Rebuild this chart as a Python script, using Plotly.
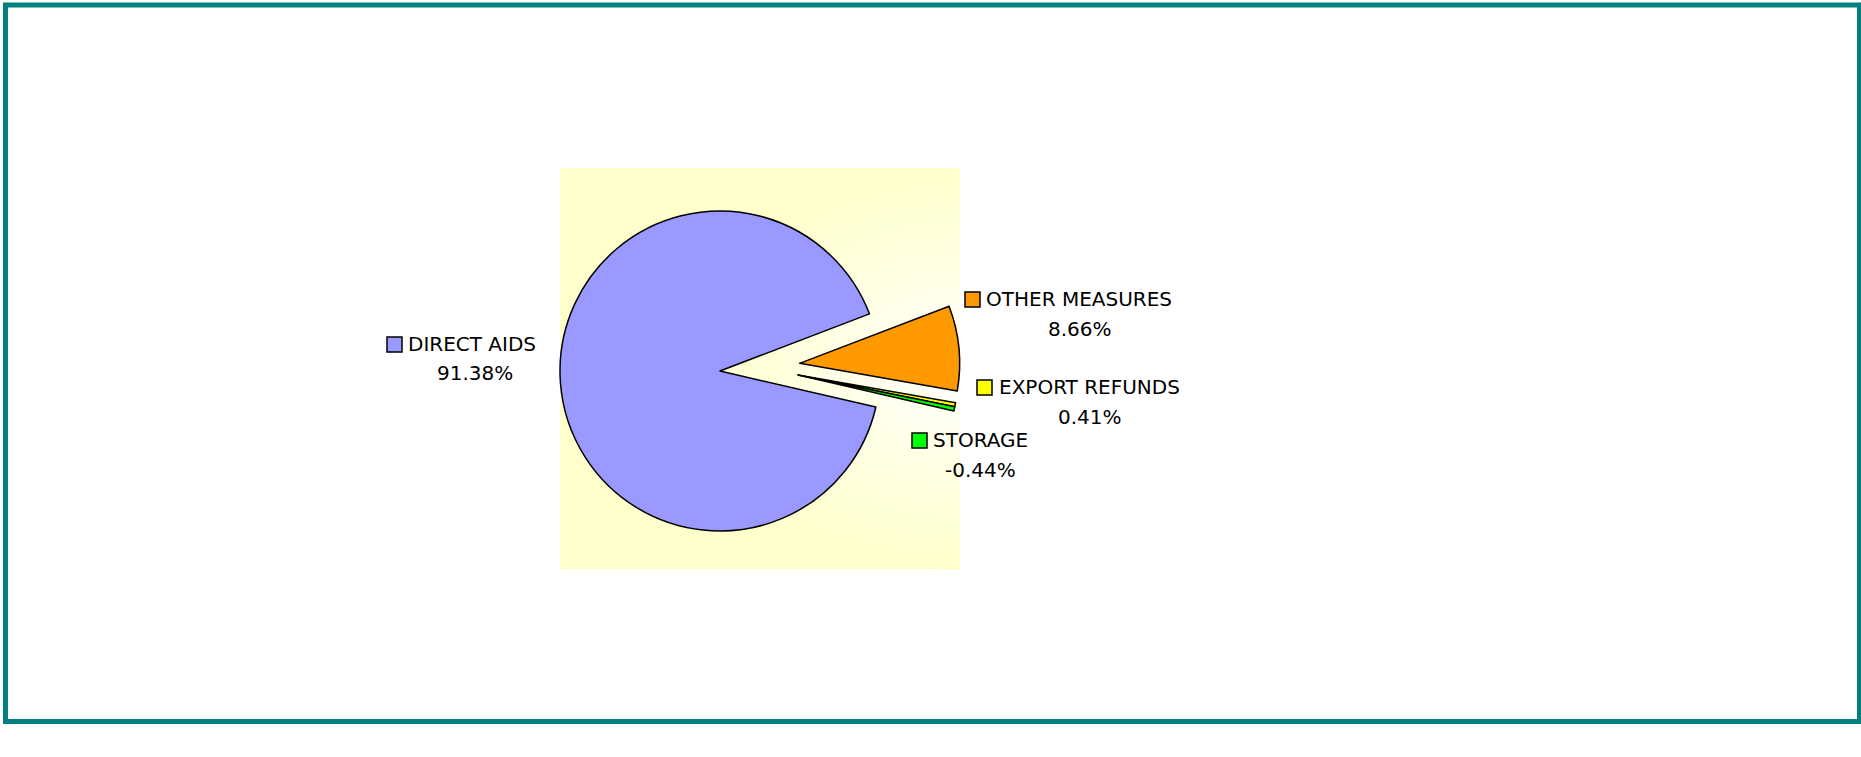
import plotly.graph_objects as go

# ---- data ----
categories = ["DIRECT AIDS", "OTHER MEASURES", "EXPORT REFUNDS", "STORAGE"]
shares_pct = [91.38, 8.66, 0.41, -0.44]
slice_colors = ["#9999FF", "#FF9900", "#FFFF00", "#00FF00"]

W, H = 1861, 757
CLEAR = "rgba(0,0,0,0)"


def X(px):
    return px / W


def Y(py):
    return 1 - py / H


slice_sizes = [abs(v) for v in shares_pct]

fig = go.Figure()

# main pie: direct aids + other measures (the two small slices are drawn by the second trace)
fig.add_trace(go.Pie(
    labels=categories,
    values=slice_sizes,
    marker=dict(colors=[slice_colors[0], slice_colors[1], CLEAR, CLEAR],
                line=dict(color="#000000", width=[1.5, 1.5, 0, 0])),
    pull=[0, 0.5, 0.5, 0.5],
    sort=False,
    direction="clockwise",
    rotation=103,
    textinfo="none",
    hoverinfo="label+percent",
    domain=dict(x=[X(480), X(960)], y=[Y(611), Y(131)]),
    showlegend=False,
))

# the two small exploded slices share one offset apex
fig.add_trace(go.Pie(
    labels=categories,
    values=slice_sizes,
    marker=dict(colors=[CLEAR, CLEAR, slice_colors[2], slice_colors[3]],
                line=dict(color="#000000", width=[0, 0, 1.5, 1.5])),
    pull=[0.5, 0.5, 0, 0],
    sort=False,
    direction="clockwise",
    rotation=103,
    textinfo="none",
    hoverinfo="skip",
    domain=dict(x=[X(558), X(1038)], y=[Y(615), Y(135)]),
    showlegend=False,
))

shapes = []
# plot-area background
shapes.append(dict(type="rect", xref="paper", yref="paper", layer="below",
                   x0=X(560), x1=X(960), y0=Y(569), y1=Y(168),
                   fillcolor="#FFFFCC", line=dict(width=0)))
# radial lightening toward the right-middle of the plot area
cx, cy = 960, 370
steps = 12
k = 0.5523
for i in range(steps):
    t = i / (steps - 1)
    rx = 270 * (1 - t) + 25 * t
    ry = 200 * (1 - t) + 20 * t
    b = int(round(206 + (250 - 206) * t))
    col = "#FFFF%02X" % b
    path = (f"M {X(cx)},{Y(cy-ry)} "
            f"C {X(cx-k*rx)},{Y(cy-ry)} {X(cx-rx)},{Y(cy-k*ry)} {X(cx-rx)},{Y(cy)} "
            f"C {X(cx-rx)},{Y(cy+k*ry)} {X(cx-k*rx)},{Y(cy+ry)} {X(cx)},{Y(cy+ry)} Z")
    shapes.append(dict(type="path", xref="paper", yref="paper", layer="below",
                       path=path, fillcolor=col, line=dict(width=0)))

# outer frame
shapes.append(dict(type="rect", xref="paper", yref="paper", layer="above",
                   x0=X(5.5), x1=X(1859.5), y0=Y(721.5), y1=Y(5),
                   fillcolor=CLEAR, line=dict(color="#008080", width=5)))

# label layout: (key-square left, key-square top, name left, name center y, pct center x, pct center y)
label_pos = [
    (387, 337, 408, 344, 475, 373),
    (965, 292, 986, 299, 1080, 329),
    (977, 380, 999, 387, 1090, 417),
    (912, 433, 933, 440, 981, 470),
]

annotations = []
font = dict(family="DejaVu Sans", size=20, color="#000000")
for name, val, col, (sx, sy, nx, ny, px, py) in zip(categories, shares_pct, slice_colors, label_pos):
    shapes.append(dict(type="rect", xref="paper", yref="paper", layer="above",
                       x0=X(sx), x1=X(sx + 15), y0=Y(sy + 15), y1=Y(sy),
                       fillcolor=col, line=dict(color="#000000", width=1.5)))
    annotations.append(dict(xref="paper", yref="paper", x=X(nx - 2), y=Y(ny),
                            xanchor="left", yanchor="middle", text=name,
                            showarrow=False, font=font))
    annotations.append(dict(xref="paper", yref="paper", x=X(px), y=Y(py),
                            xanchor="center", yanchor="middle", text=f"{val:.2f}%",
                            showarrow=False, font=font))

fig.update_layout(
    width=W, height=H,
    margin=dict(l=0, r=0, t=0, b=0, pad=0),
    paper_bgcolor="#FFFFFF",
    plot_bgcolor="#FFFFFF",
    showlegend=False,
    shapes=shapes,
    annotations=annotations,
)

fig.write_html("out.html", config={"displayModeBar": False},
               post_script="document.body.style.margin='0';document.body.style.overflow='hidden';")
